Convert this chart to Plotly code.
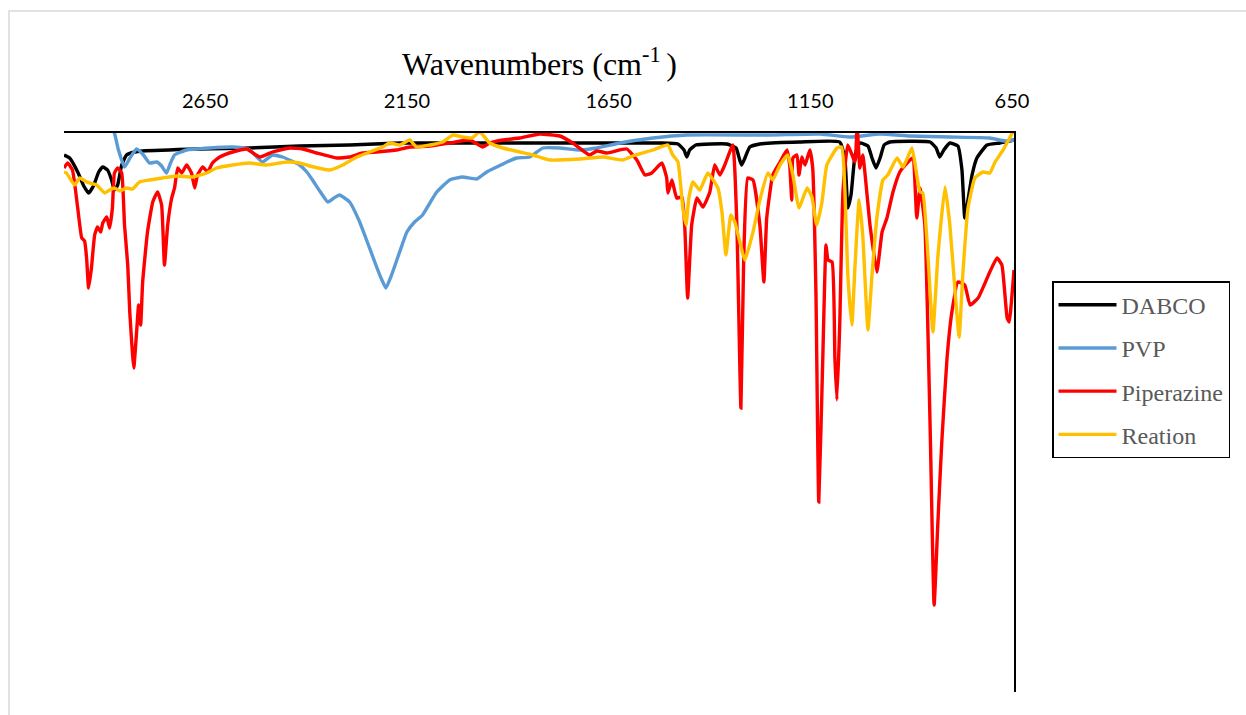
import plotly.graph_objects as go

# ---------------- data ----------------
series_names = ["DABCO", "PVP", "Piperazine", "Reation"]
series_colors = ["#000000", "#5B9BD5", "#FF0000", "#FFC000"]
tick_vals = [2650, 2150, 1650, 1150, 650]

dabco_wn = [3000, 2986, 2966, 2951, 2939, 2927, 2914, 2904, 2892, 2882,
            2875, 2867, 2857, 2845, 2825, 2805, 2664, 2540, 2416, 2292,
            2168, 2019, 1870, 1672, 1523, 1478, 1463, 1456, 1449, 1434,
            1357, 1334, 1325, 1320, 1312, 1300, 1275, 1176, 1077, 1064,
            1057, 1049, 1039, 1027, 1007, 997, 987, 977, 967, 953,
            853, 838, 829, 819, 804, 784, 774, 767, 759, 749,
            737, 712, 680, 645]
dabco_t = [97.8, 97.5, 96.1, 94.7, 94.0, 94.7, 96.1, 96.6, 96.3, 95.3,
           94.3, 94.8, 96.8, 97.8, 98.1, 98.2, 98.4, 98.5, 98.7, 98.8,
           99.0, 99.0, 99.0, 99.0, 99.0, 98.9, 98.3, 97.6, 98.3, 98.8,
           98.9, 98.5, 97.3, 96.8, 97.5, 98.6, 98.9, 99.1, 99.1, 97.3,
           92.5, 93.8, 97.8, 99.0, 98.7, 97.5, 96.5, 97.5, 98.8, 99.1,
           99.1, 98.5, 97.6, 98.3, 99.0, 98.7, 96.3, 91.5, 93.3, 95.8,
           97.5, 98.8, 99.0, 99.3]

pvp_wn = [3000, 2882, 2875, 2865, 2850, 2835, 2820, 2803, 2788, 2770,
          2758, 2746, 2736, 2726, 2696, 2639, 2582, 2552, 2540, 2522,
          2508, 2483, 2458, 2436, 2416, 2398, 2384, 2366, 2346, 2331,
          2317, 2292, 2267, 2250, 2225, 2212, 2202, 2188, 2168, 2150,
          2131, 2111, 2093, 2076, 2044, 2012, 1977, 1952, 1927, 1902,
          1878, 1845, 1813, 1771, 1721, 1679, 1622, 1540, 1456, 1250,
          1126, 1052, 977, 903, 804, 705, 667, 645]
pvp_t = [103.3, 100.5, 100.0, 98.3, 96.6, 97.6, 98.4, 97.8, 97.0, 97.1,
         96.7, 96.0, 97.0, 97.8, 98.3, 98.5, 98.6, 98.5, 98.3, 97.6,
         97.1, 97.8, 97.6, 97.2, 96.8, 96.1, 95.3, 94.2, 93.1, 93.5,
         93.8, 93.1, 91.1, 89.3, 86.6, 85.3, 84.5, 85.8, 88.1, 90.1,
         91.1, 91.8, 93.0, 94.1, 95.3, 95.6, 95.4, 96.1, 96.6, 97.1,
         97.5, 97.6, 98.5, 98.5, 98.3, 98.5, 99.0, 99.5, 99.8, 99.8,
         99.9, 99.6, 99.9, 99.7, 99.6, 99.5, 99.2, 99.3]

pip_wn = [3000, 2991, 2979, 2966, 2956, 2949, 2944, 2939, 2932, 2924,
          2917, 2909, 2904, 2894, 2887, 2880, 2875, 2867, 2857, 2850,
          2842, 2837, 2830, 2827, 2820, 2815, 2810, 2805, 2793, 2780,
          2768, 2758, 2751, 2743, 2733, 2726, 2718, 2708, 2696, 2684,
          2676, 2669, 2656, 2644, 2632, 2614, 2582, 2547, 2515, 2483,
          2441, 2408, 2374, 2324, 2292, 2260, 2225, 2175, 2143, 2093,
          2044, 1994, 1962, 1945, 1912, 1870, 1821, 1771, 1739, 1697,
          1679, 1654, 1605, 1580, 1560, 1543, 1518, 1506, 1503, 1493,
          1481, 1468, 1461, 1454, 1444, 1431, 1416, 1399, 1387, 1374,
          1362, 1342, 1332, 1322, 1315, 1305, 1292, 1275, 1265, 1258,
          1243, 1225, 1208, 1201, 1196, 1193, 1183, 1178, 1171, 1163,
          1151, 1144, 1136, 1129, 1119, 1111, 1106, 1096, 1089, 1084,
          1077, 1069, 1057, 1039, 1034, 1027, 1020, 1002, 985, 972,
          960, 945, 928, 910, 896, 886, 878, 866, 853, 843,
          834, 824, 811, 799, 784, 767, 754, 734, 705, 687,
          675, 662, 657, 645]
pip_t = [96.5, 97.0, 96.3, 92.5, 89.5, 89.2, 87.5, 84.5, 86.5, 89.8,
         90.6, 90.1, 91.0, 91.6, 90.5, 92.5, 96.0, 96.5, 96.0, 90.8,
         86.8, 82.1, 77.8, 76.5, 80.1, 82.8, 80.8, 85.1, 90.1, 93.1,
         94.1, 92.8, 86.8, 90.8, 93.5, 94.5, 96.5, 96.0, 96.8, 96.0,
         94.5, 95.8, 96.6, 96.1, 97.0, 97.6, 98.1, 98.4, 97.6, 98.1,
         98.5, 98.4, 98.0, 97.5, 97.6, 98.0, 98.1, 98.3, 98.6, 98.7,
         99.0, 99.3, 98.6, 99.0, 99.3, 99.5, 99.9, 99.7, 99.0, 97.8,
         98.2, 98.0, 98.4, 97.3, 95.8, 96.0, 97.0, 95.5, 94.0, 95.3,
         93.5, 93.6, 90.5, 83.5, 90.8, 93.5, 92.6, 94.1, 96.8, 95.8,
         96.8, 98.8, 90.8, 72.5, 87.5, 95.5, 95.3, 90.8, 85.1, 91.5,
         95.8, 97.1, 98.3, 96.8, 93.3, 97.5, 97.8, 95.8, 97.6, 96.8,
         98.3, 96.5, 84.1, 63.1, 77.5, 88.8, 87.3, 87.1, 77.5, 73.3,
         80.8, 94.1, 98.8, 97.1, 100.8, 96.5, 97.8, 90.8, 86.1, 90.1,
         91.5, 94.1, 96.1, 97.0, 97.5, 91.5, 94.5, 90.8, 70.8, 52.8,
         60.8, 69.1, 77.5, 82.1, 85.1, 84.8, 82.8, 83.5, 86.1, 87.5,
         86.8, 81.5, 81.1, 86.3]

rea_wn = [3000, 2994, 2974, 2961, 2944, 2919, 2899, 2887, 2875, 2862,
          2845, 2830, 2813, 2788, 2756, 2721, 2681, 2646, 2622, 2582,
          2540, 2498, 2448, 2416, 2391, 2341, 2309, 2274, 2242, 2210,
          2193, 2168, 2143, 2126, 2093, 2061, 2036, 2012, 1989, 1969,
          1945, 1912, 1870, 1838, 1796, 1721, 1664, 1615, 1590, 1540,
          1503, 1491, 1478, 1466, 1458, 1451, 1441, 1424, 1404, 1379,
          1369, 1359, 1347, 1337, 1312, 1292, 1275, 1255, 1243, 1225,
          1206, 1193, 1178, 1158, 1146, 1134, 1121, 1109, 1084, 1072,
          1064, 1057, 1047, 1039, 1029, 1020, 1007, 997, 985, 970,
          958, 935, 920, 898, 886, 878, 871, 858, 846, 834,
          816, 804, 791, 781, 772, 759, 742, 722, 705, 692,
          672, 648]
rea_t = [96.1, 96.0, 94.8, 95.5, 95.1, 94.8, 94.0, 94.3, 94.5, 94.2,
         94.5, 94.4, 95.1, 95.3, 95.5, 95.7, 95.6, 96.0, 96.5, 96.8,
         97.0, 96.8, 97.1, 97.0, 96.7, 96.3, 96.8, 97.6, 98.1, 98.6,
         99.0, 98.8, 99.3, 98.6, 98.8, 99.1, 99.8, 99.6, 99.5, 100.1,
         99.0, 98.5, 98.1, 97.8, 97.3, 97.4, 97.6, 97.3, 97.7, 98.3,
         98.8, 97.8, 97.1, 92.5, 90.8, 93.5, 95.1, 94.3, 96.0, 94.5,
         92.1, 87.8, 91.8, 91.1, 87.3, 90.1, 93.3, 96.0, 95.3, 96.8,
         97.8, 95.8, 92.5, 94.5, 93.6, 90.8, 93.1, 96.8, 98.5, 98.6,
         94.1, 85.8, 80.8, 86.8, 93.3, 89.8, 80.3, 85.8, 91.5, 95.3,
         95.8, 97.5, 96.6, 98.5, 95.8, 94.1, 94.0, 87.5, 80.1, 87.5,
         94.6, 90.8, 84.1, 79.6, 85.8, 92.5, 95.5, 96.1, 96.0, 97.1,
         98.3, 100.1]

x_range = [3000, 645]
y_range = [44.1, 100]

# ---------------- figure ----------------
serif = "Liberation Serif, Times New Roman, serif"
fig = go.Figure()
all_x = [dabco_wn, pvp_wn, pip_wn, rea_wn]
all_y = [dabco_t, pvp_t, pip_t, rea_t]
for name, col, xs, ys in zip(series_names, series_colors, all_x, all_y):
    fig.add_trace(go.Scatter(
        x=xs, y=ys, mode="lines", name=name, legendgroup=name,
        line=dict(color=col, width=3.4, shape="spline", smoothing=0.4),
    ))

fig.update_layout(
    width=1246, height=715,
    margin=dict(l=64, r=232, t=133, b=23),
    paper_bgcolor="white", plot_bgcolor="white",
    showlegend=True,
    legend=dict(
        x=1.04, y=0.735, xanchor="left", yanchor="top",
        bordercolor="#000000", borderwidth=1.5,
        font=dict(family=serif, size=24, color="#595959"),
        tracegroupgap=9, itemwidth=58,
    ),
    xaxis=dict(
        range=x_range, side="top", tickvals=tick_vals,
        ticktext=[str(v) for v in tick_vals],
        showgrid=False, zeroline=False, showline=True,
        linecolor="#000000", linewidth=1.5, ticks="",
        tickfont=dict(family="Lato, Carlito, sans-serif", size=20, color="#000000"),
        ticklabelstandoff=15,
    ),
    yaxis=dict(
        range=y_range, side="right", showgrid=False, zeroline=False,
        showline=True, linecolor="#000000", linewidth=1.5,
        showticklabels=False, ticks="",
    ),
    annotations=[dict(
        text="Wavenumbers (cm<sup>-1 </sup>)", xref="paper", yref="paper",
        x=0.5, y=1.127, xanchor="center", yanchor="middle", showarrow=False,
        font=dict(family=serif, size=32, color="#000000"),
    )],
    shapes=[dict(
        type="rect", xref="paper", yref="paper",
        x0=-0.0579, x1=1.4, y0=-0.2, y1=1.2182,
        line=dict(color="#d9d9d9", width=1.5), fillcolor="rgba(0,0,0,0)", layer="below",
    )],
)

fig.write_html("out.html")
